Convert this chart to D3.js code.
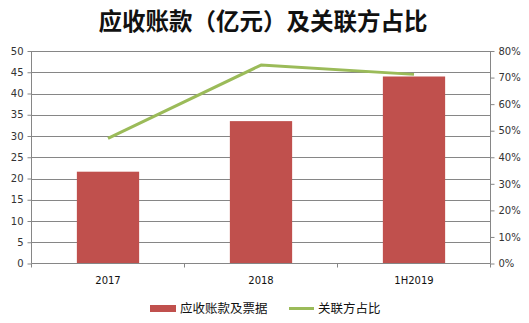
<!DOCTYPE html>
<html>
<head>
<meta charset="utf-8">
<script src="https://cdn.jsdelivr.net/npm/d3@7"></script>
<style>
  html, body { margin: 0; padding: 0; background: #fff; }
  svg { display: block; }
</style>
</head>
<body>
<svg id="chart" width="529" height="323"></svg>
<script>
// Receivables (100M CNY) with related-party share
const categories = ["2017", "2018", "1H2019"];
const receivables = [21.6, 33.5, 44.0];          // 应收账款及票据, 亿元
const relatedShare = [0.471, 0.747, 0.712];      // 关联方占比
const leftTicks = [0, 5, 10, 15, 20, 25, 30, 35, 40, 45, 50];
const rightTicks = [0, 0.1, 0.2, 0.3, 0.4, 0.5, 0.6, 0.7, 0.8];
const titleText = "应收账款（亿元）及关联方占比";
const barName = "应收账款及票据";
const lineName = "关联方占比";

const svg = d3.select("#chart");
const margin = { left: 31.5, right: 490.5, top: 51, bottom: 263.5 };
const axisColor = "#868686";
const textColor = "#333";
const tickFont = "DejaVu Sans, Verdana, sans-serif";
const cjkFont = "'Noto Sans CJK SC', sans-serif";

const x = d3.scaleBand().domain(categories).range([margin.left, margin.right]).padding(0);
const yL = d3.scaleLinear().domain([0, 50]).range([margin.bottom, margin.top]);
const yR = d3.scaleLinear().domain([0, 0.8]).range([margin.bottom, margin.top]);
const barW = x.bandwidth() * 0.407;

// Title
svg.append("text")
  .attr("x", 263).attr("y", 30)
  .attr("text-anchor", "middle")
  .attr("font-family", cjkFont)
  .attr("font-size", 23.5)
  .attr("font-weight", 700)
  .attr("fill", "#111")
  .text(titleText);

// Horizontal gridlines
svg.append("g").selectAll("line")
  .data(leftTicks.filter(d => d > 0))
  .join("line")
  .attr("x1", margin.left).attr("x2", margin.right)
  .attr("y1", d => Math.round(yL(d)) + 0.5).attr("y2", d => Math.round(yL(d)) + 0.5)
  .attr("stroke", axisColor).attr("stroke-width", 1);

// Bars
svg.append("g").selectAll("rect")
  .data(categories.map((c, i) => ({ c, v: receivables[i] })))
  .join("rect")
  .attr("x", d => x(d.c) + x.bandwidth() / 2 - barW / 2)
  .attr("width", barW)
  .attr("y", d => yL(d.v))
  .attr("height", d => yL(0) - yL(d.v))
  .attr("fill", "#C0504D");

// Left axis
const leftAxis = d3.axisLeft(yL).tickValues(leftTicks).tickSize(4).tickPadding(4);
const gL = svg.append("g").attr("transform", `translate(${margin.left},0)`).call(leftAxis);
gL.select(".domain").attr("stroke", axisColor).attr("d", `M0,${margin.bottom}V${margin.top}`);
gL.selectAll(".tick line").attr("stroke", axisColor);
gL.selectAll(".tick text").attr("font-family", tickFont).attr("font-size", 10).attr("fill", textColor);

// Right axis
const rightAxis = d3.axisRight(yR).tickValues(rightTicks).tickFormat(d3.format(".0%")).tickSize(4).tickPadding(4);
const gR = svg.append("g").attr("transform", `translate(${margin.right},0)`).call(rightAxis);
gR.select(".domain").attr("stroke", axisColor).attr("d", `M0,${margin.bottom}V${margin.top}`);
gR.selectAll(".tick line").attr("stroke", axisColor);
gR.selectAll(".tick text").attr("font-family", tickFont).attr("font-size", 10).attr("fill", textColor);

// Bottom axis: ticks at category boundaries
const gB = svg.append("g");
gB.append("line")
  .attr("x1", margin.left).attr("x2", margin.right)
  .attr("y1", margin.bottom).attr("y2", margin.bottom)
  .attr("stroke", axisColor);
const bounds = categories.map(c => x(c)).concat([x(categories[categories.length - 1]) + x.bandwidth()]);
gB.selectAll("line.tk").data(bounds).join("line").attr("class", "tk")
  .attr("x1", d => d).attr("x2", d => d)
  .attr("y1", margin.bottom).attr("y2", margin.bottom + 4)
  .attr("stroke", axisColor);
gB.selectAll("text").data(categories).join("text")
  .attr("x", d => x(d) + x.bandwidth() / 2)
  .attr("y", 284)
  .attr("text-anchor", "middle")
  .attr("font-family", tickFont).attr("font-size", 10)
  .attr("fill", "#111")
  .text(d => d);

// Related-party share line
const line = d3.line()
  .x((d, i) => x(categories[i]) + x.bandwidth() / 2)
  .y(d => yR(d));
svg.append("path")
  .datum(relatedShare)
  .attr("d", line)
  .attr("fill", "none")
  .attr("stroke", "#9BBB59")
  .attr("stroke-width", 3)
  .attr("stroke-linejoin", "round");

// Legend
const lg = svg.append("g");
lg.append("rect").attr("x", 150).attr("y", 305).attr("width", 26).attr("height", 7).attr("fill", "#C0504D");
lg.append("text").attr("x", 180).attr("y", 313)
  .attr("font-family", cjkFont).attr("font-size", 12.5).attr("fill", "#111").text(barName);
lg.append("line").attr("x1", 289).attr("x2", 314).attr("y1", 308.5).attr("y2", 308.5)
  .attr("stroke", "#9BBB59").attr("stroke-width", 3);
lg.append("text").attr("x", 318).attr("y", 313)
  .attr("font-family", cjkFont).attr("font-size", 12.5).attr("fill", "#111").text(lineName);
</script>
</body>
</html>
